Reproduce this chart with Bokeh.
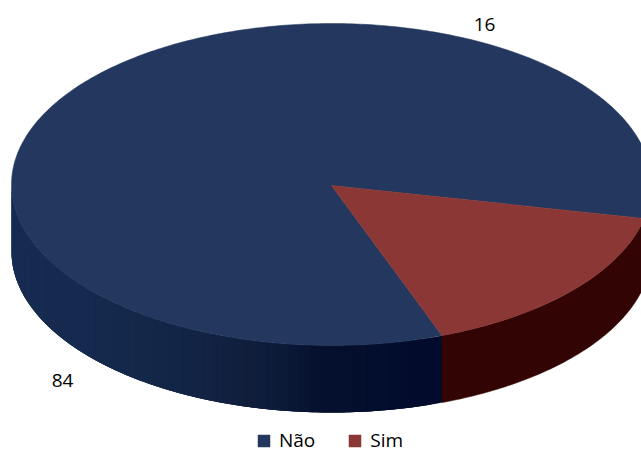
import numpy as np
from bokeh.plotting import figure
from bokeh.models import Range1d, Legend, LegendItem
from bokeh.core.properties import value
from bokeh.embed import file_html
from bokeh.resources import INLINE

categories = ["Não", "Sim"]
values = [84, 16]
top_colors = ["#24385f", "#8b3735"]
side_sim = "#320403"
shade_x = [11, 100, 180, 260, 300, 340, 441]
shade_colors = [(23, 43, 82), (21, 42, 78), (19, 38, 72), (17, 31, 62), (12, 27, 56), (6, 16, 46), (2, 11, 44)]

CX, CY, RX, RY, DEPTH = 331.0, 184.0, 320.0, 161.0, 67.0
SIM_START = 12.2
FONT = "Open Sans"


def ell(t):
    return CX + RX * np.cos(np.radians(t)), CY + RY * np.sin(np.radians(t))


p = figure(width=641, height=454, x_range=Range1d(0, 641), y_range=Range1d(454, 0),
           output_backend="svg", toolbar_location=None, min_border=0, outline_line_color=None)
p.axis.visible = False
p.grid.visible = False
p.background_fill_color = "white"
p.border_fill_color = "white"

sweep_sim = 360.0 * values[1] / sum(values)
sim_end = SIM_START + sweep_sim

# visible side wall, drawn as overlapping bands of the gradient
edges = np.arange(sim_end, 180.01, 2.0)
edges = np.append(edges, 180.0) if edges[-1] < 180 else edges
xs_side, ys_side, cols = [], [], []
for i in range(len(edges) - 1):
    a = edges[i]
    b = edges[min(i + 3, len(edges) - 1)]
    ts = np.linspace(a, b, 8)
    xa, ya = ell(ts)
    xs_side.append(np.concatenate([xa, xa[::-1]]))
    ys_side.append(np.concatenate([ya, ya[::-1] + DEPTH]))
    xm = ell((edges[i] + edges[i + 1]) / 2)[0]
    c = [int(round(np.interp(xm, shade_x, [s[j] for s in shade_colors]))) for j in range(3)]
    cols.append("#%02x%02x%02x" % tuple(c))
p.patches(xs_side[::-1], ys_side[::-1], fill_color=cols[::-1], line_color=None)

t = np.linspace(0.0, sim_end, 80)
x_top, y_top = ell(t)
sx = np.concatenate([x_top, x_top[::-1]])
sy = np.concatenate([y_top, y_top[::-1] + DEPTH])
p.patch(sx, sy, fill_color=side_sim, line_color=side_sim, line_width=0.5)

# top face
t_nao = np.linspace(sim_end, SIM_START + 360.0, 400)
xn, yn = ell(t_nao)
r_nao = p.patch(np.concatenate([[CX], xn]), np.concatenate([[CY + 1], yn]),
                fill_color=top_colors[0], line_color=top_colors[0], line_width=0.5)
t_sim = np.linspace(SIM_START, sim_end, 80)
xs, ys = ell(t_sim)
r_sim = p.patch(np.concatenate([[CX], xs]), np.concatenate([[CY + 1], ys]),
                fill_color=top_colors[1], line_color=top_colors[1], line_width=0.5)

# data labels
p.text([62, 484], [380, 24], text=[str(values[0]), str(values[1])],
       text_font=value(FONT), text_font_size="19px", text_color="#000000",
       text_align="center", text_baseline="middle")

legend = Legend(items=[LegendItem(label=categories[0], renderers=[r_nao]),
                       LegendItem(label=categories[1], renderers=[r_sim])],
                orientation="horizontal", location=(256, 1), margin=0, padding=0,
                spacing=32, glyph_width=15, glyph_height=15, label_standoff=8,
                label_text_font=FONT, label_text_font_size="19px", label_text_color="#000000",
                background_fill_alpha=0, border_line_color=None)
p.add_layout(legend, "center")

open("out.html", "w").write(file_html(p, INLINE))
